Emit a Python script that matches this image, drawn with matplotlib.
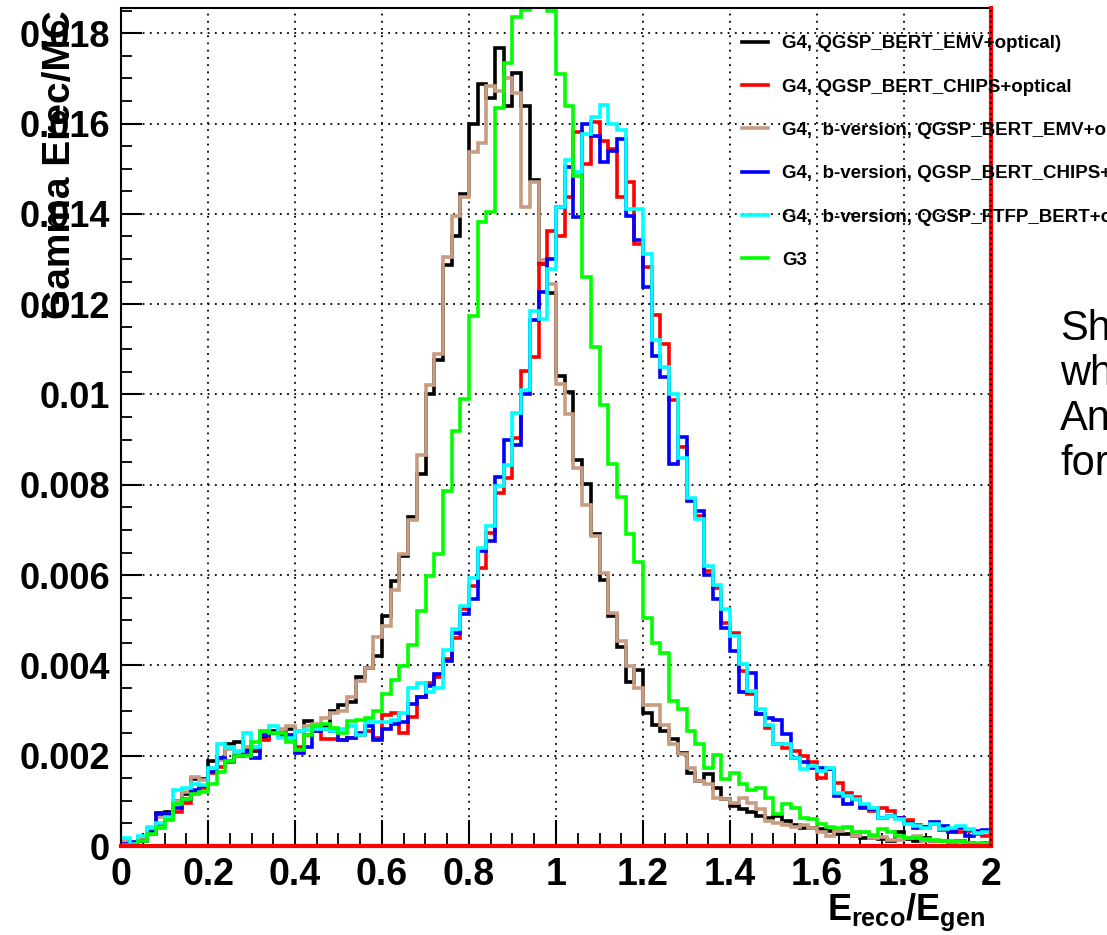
import numpy as np
import matplotlib
matplotlib.use("Agg")
import matplotlib.pyplot as plt
from matplotlib.ticker import MultipleLocator

# 100 bins between 0 and 2, contents in units of 1e-3
bin_lo, bin_hi, n_bins = 0.0, 2.0, 100

g4_emv = [
    0.05, 0.05, 0.20, 0.35, 0.73, 0.75, 1.00, 1.15, 1.48, 1.48,
    1.88, 1.94, 2.27, 2.30, 2.15, 2.10, 2.40, 2.55, 2.45, 2.60,
    2.55, 2.77, 2.65, 2.66, 3.00, 3.12, 3.20, 3.74, 3.95, 4.20,
    5.09, 5.87, 6.42, 7.29, 8.24, 10.00, 10.77, 12.86, 13.52, 14.43,
    15.98, 16.88, 16.56, 17.68, 16.40, 17.11, 16.40, 14.74, 12.90, 12.24,
    10.42, 10.05, 8.56, 8.01, 6.91, 5.90, 5.09, 4.40, 3.63, 3.90,
    2.95, 2.69, 2.55, 2.36, 2.07, 1.62, 1.44, 1.59, 1.29, 1.03,
    0.89, 0.83, 0.76, 0.66, 0.63, 0.66, 0.55, 0.46, 0.39, 0.39,
    0.37, 0.33, 0.27, 0.26, 0.22, 0.18, 0.17, 0.15, 0.11, 0.30,
    0.15, 0.10, 0.18, 0.12, 0.10, 0.08, 0.10, 0.06, 0.05, 0.06,
]
g4_chips = [
    0.04, 0.05, 0.14, 0.27, 0.48, 0.60, 0.75, 0.95, 1.18, 1.28,
    1.62, 1.75, 1.85, 2.00, 2.05, 2.15, 2.35, 2.50, 2.45, 2.40,
    2.20, 2.45, 2.55, 2.38, 2.38, 2.35, 2.40, 2.45, 2.55, 2.40,
    2.90, 2.95, 2.50, 2.85, 3.30, 3.60, 3.75, 4.15, 4.61, 5.24,
    5.76, 6.15, 6.94, 7.82, 8.15, 9.04, 10.53, 10.83, 12.89, 13.63,
    13.52, 14.37, 15.81, 15.10, 16.03, 15.62, 15.44, 14.37, 14.70, 13.34,
    12.82, 11.75, 11.12, 9.87, 8.83, 7.69, 7.30, 6.10, 5.72, 4.94,
    4.72, 3.87, 3.36, 2.92, 2.62, 2.25, 2.18, 2.10, 2.00, 1.85,
    1.51, 1.70, 1.40, 1.18, 1.08, 0.89, 0.77, 0.85, 0.77, 0.63,
    0.57, 0.47, 0.41, 0.48, 0.35, 0.37, 0.30, 0.33, 0.26, 0.22,
]
g4b_emv = [
    0.12, 0.06, 0.20, 0.38, 0.65, 0.70, 1.00, 1.20, 1.52, 1.46,
    1.65, 1.90, 2.15, 2.05, 2.20, 2.20, 2.55, 2.50, 2.60, 2.65,
    2.55, 2.65, 2.70, 2.84, 2.95, 3.00, 3.30, 3.65, 3.95, 4.63,
    4.87, 5.66, 6.47, 7.23, 8.67, 10.22, 10.89, 13.04, 13.96, 14.37,
    15.37, 15.56, 16.84, 16.73, 17.01, 16.67, 14.16, 14.70, 12.97, 12.45,
    10.24, 9.57, 8.38, 7.56, 6.86, 6.05, 5.17, 4.55, 3.99, 3.50,
    3.12, 3.12, 2.69, 2.25, 2.03, 1.73, 1.44, 1.37, 1.07, 1.03,
    0.96, 1.07, 0.96, 0.81, 0.55, 0.52, 0.46, 0.42, 0.46, 0.39,
    0.32, 0.22, 0.33, 0.40, 0.22, 0.30, 0.17, 0.20, 0.13, 0.13,
    0.18, 0.22, 0.11, 0.11, 0.10, 0.09, 0.08, 0.07, 0.06, 0.05,
]
g4b_chips = [
    0.04, 0.08, 0.10, 0.30, 0.70, 0.70, 0.85, 1.05, 1.25, 1.33,
    1.65, 1.95, 1.88, 2.00, 2.10, 1.95, 2.45, 2.50, 2.50, 2.45,
    2.06, 2.20, 2.55, 2.60, 2.55, 2.35, 2.40, 2.50, 2.65, 2.35,
    2.60, 2.70, 2.75, 3.15, 3.30, 3.55, 3.80, 4.10, 4.72, 5.13,
    5.46, 6.53, 6.75, 8.17, 9.00, 8.89, 10.00, 11.64, 12.27, 13.00,
    14.15, 15.03, 13.93, 16.00, 15.73, 15.14, 15.40, 15.66, 13.96, 13.42,
    12.38, 10.86, 10.38, 8.47, 9.06, 7.65, 7.43, 6.00, 5.46, 4.83,
    4.32, 3.40, 3.84, 2.92, 2.84, 2.80, 2.47, 1.96, 1.85, 1.73,
    1.73, 1.70, 1.11, 0.92, 1.03, 0.85, 0.81, 0.63, 0.66, 0.63,
    0.52, 0.39, 0.41, 0.54, 0.44, 0.30, 0.40, 0.22, 0.33, 0.35,
]
g4b_ftfp = [
    0.17, 0.04, 0.22, 0.41, 0.50, 0.65, 1.25, 1.28, 1.37, 1.36,
    1.73, 2.27, 2.20, 2.10, 2.50, 2.20, 2.55, 2.65, 2.40, 2.40,
    2.55, 2.58, 2.60, 2.60, 2.55, 2.60, 2.65, 2.45, 2.75, 2.75,
    2.75, 2.80, 2.95, 3.50, 3.62, 3.40, 3.50, 4.35, 4.80, 5.31,
    5.94, 6.60, 7.08, 7.97, 8.44, 9.60, 10.10, 11.86, 11.68, 12.78,
    14.15, 15.20, 14.92, 15.77, 16.14, 16.42, 16.00, 15.86, 14.11, 14.11,
    13.11, 11.20, 10.60, 10.00, 8.60, 7.70, 7.25, 6.20, 5.79, 5.24,
    4.65, 4.02, 3.43, 3.03, 2.69, 2.25, 2.25, 1.96, 1.70, 1.77,
    1.66, 1.73, 1.18, 1.10, 1.03, 0.92, 0.85, 0.63, 0.66, 0.59,
    0.48, 0.44, 0.40, 0.48, 0.37, 0.40, 0.44, 0.37, 0.28, 0.30,
]
g3 = [
    0.02, 0.03, 0.10, 0.27, 0.40, 0.58, 0.94, 1.05, 1.15, 1.20,
    1.38, 1.65, 1.88, 2.00, 2.00, 2.30, 2.55, 2.50, 2.50, 2.30,
    2.12, 2.45, 2.65, 2.70, 2.62, 2.50, 2.77, 2.80, 2.84, 3.00,
    3.36, 3.67, 3.99, 4.45, 5.20, 5.98, 6.46, 7.86, 9.20, 9.90,
    11.73, 13.82, 14.04, 16.34, 17.34, 18.37, 18.52, 19.00, 19.20, 18.50,
    17.10, 16.40, 14.85, 12.60, 11.05, 9.76, 8.47, 7.73, 6.90, 6.30,
    5.06, 4.50, 4.28, 3.21, 3.03, 2.55, 2.25, 1.73, 2.01, 1.48,
    1.62, 1.37, 1.25, 1.29, 1.07, 0.70, 0.92, 0.85, 0.63, 0.59,
    0.48, 0.41, 0.39, 0.42, 0.30, 0.30, 0.24, 0.37, 0.30, 0.22,
    0.18, 0.17, 0.15, 0.13, 0.11, 0.11, 0.11, 0.05, 0.05, 0.06,
]

labels = [
    "G4, QGSP_BERT_EMV+optical)",
    "G4, QGSP_BERT_CHIPS+optical",
    "G4,  b-version, QGSP_BERT_EMV+optical",
    "G4,  b-version, QGSP_BERT_CHIPS+optical",
    "G4,  b-version, QGSP_FTFP_BERT+optical",
    "G3",
]
colors = ["black", "#ff0000", "#c89c80", "#0000ff", "#00ffff", "#00ff00"]

x_ticks = [0, 0.2, 0.4, 0.6, 0.8, 1.0, 1.2, 1.4, 1.6, 1.8, 2.0]
x_ticklabels = ["0", "0.2", "0.4", "0.6", "0.8", "1", "1.2", "1.4", "1.6", "1.8", "2"]
y_ticks = [0, 0.002, 0.004, 0.006, 0.008, 0.010, 0.012, 0.014, 0.016, 0.018]
y_ticklabels = ["0", "0.002", "0.004", "0.006", "0.008", "0.01", "0.012", "0.014", "0.016", "0.018"]

side_lines = ["Sh", "wh", "An", "for"]

plt.rcParams["font.family"] = "Liberation Sans"
plt.rcParams["font.weight"] = "bold"
plt.rcParams["mathtext.fontset"] = "custom"
plt.rcParams["mathtext.rm"] = "Liberation Sans:bold"
plt.rcParams["mathtext.it"] = "Liberation Sans:bold"
plt.rcParams["mathtext.bf"] = "Liberation Sans:bold"

W, H = 1107, 935
fig = plt.figure(figsize=(W / 100, H / 100), dpi=100)
ax = fig.add_axes([121 / W, 1 - 846 / H, 870 / W, 838 / H])

edges = np.linspace(bin_lo, bin_hi, n_bins + 1)
series = [g4_emv, g4_chips, g4b_emv, g4b_chips, g4b_ftfp, g3]
for vals, col, lab in zip(series, colors, labels):
    ax.stairs(np.array(vals) * 1e-3, edges, baseline=None, color=col, lw=2.6, label=lab)

ax.set_xlim(0, 2)
ax.set_ylim(0, 0.01856)

ax.set_xticks(x_ticks)
ax.set_xticklabels(x_ticklabels)
ax.set_yticks(y_ticks)
ax.set_yticklabels(y_ticklabels)
ax.xaxis.set_minor_locator(MultipleLocator(0.05))
ax.yaxis.set_minor_locator(MultipleLocator(0.0005))

ax.tick_params(axis="x", which="major", direction="in", length=19, width=1.5, labelsize=27, pad=8)
ax.tick_params(axis="x", which="minor", direction="in", length=9.5, width=1.3)
ax.tick_params(axis="y", which="major", direction="in", length=15, width=1.5, labelsize=26, pad=8)
ax.tick_params(axis="y", which="minor", direction="in", length=8, width=1.3)

ax.set_axisbelow(True)
ax.grid(True, which="major", color="black", linestyle=(0, (1, 3)), lw=1.3)
for s in ax.spines.values():
    s.set_linewidth(1.5)

# red reference lines along the bottom and the right edge
ax.axhline(0, color="#ff0000", lw=3, clip_on=False, zorder=5)
ax.axvline(2, color="#ff0000", lw=3, clip_on=False, zorder=5)
ax.axvline(2, color="black", lw=1.3, linestyle=(0, (1, 2)), clip_on=False, zorder=6)

leg = ax.legend(loc="upper left", bbox_to_anchor=(742 / W, 1 - 35 / H),
                bbox_transform=fig.transFigure, frameon=False, fontsize=13.5,
                handlelength=1.4, handletextpad=0.75, labelspacing=1.4,
                borderpad=0, borderaxespad=0)
for t in leg.get_texts():
    t.set_clip_on(False)

fig.text(60 / W, 1 - 10 / H, "Gamma Erec/MC", rotation=90, ha="center", va="top",
         fontsize=28, fontweight="bold")
fig.text(985 / W, 1 - 920 / H, r"$E_{reco}/E_{gen}$", ha="right", va="baseline",
         fontsize=26)

for i, s in enumerate(side_lines):
    fig.text(1060 / W, 1 - (340 + 45 * i) / H, s, ha="left", va="baseline",
             fontsize=30, fontweight="normal")

fig.savefig("out.png", dpi=100)
